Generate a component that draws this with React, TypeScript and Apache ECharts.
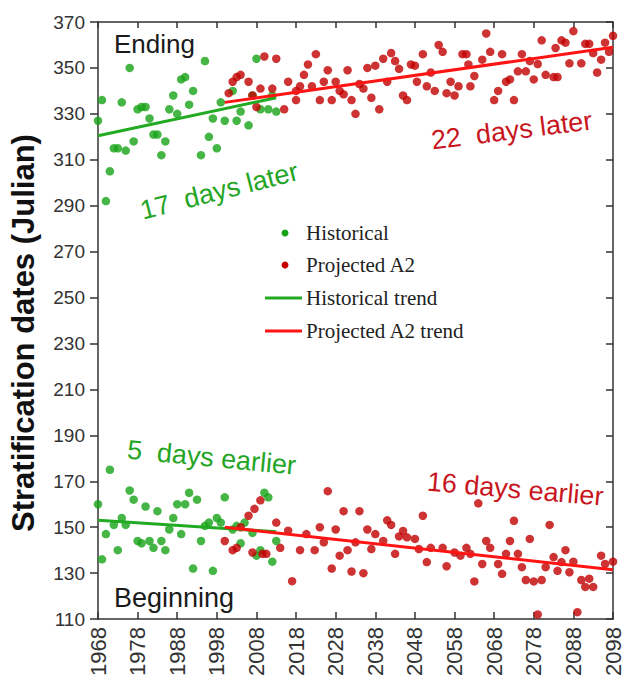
import React, { useEffect, useRef } from "react";
import * as echarts from "echarts";

// Historical (green) ending dates [year, julian day]
const histEnd: number[][] = [
  [1968, 327], [1969, 336], [1970, 292], [1971, 305], [1972, 315], [1973, 315], [1974, 335],
  [1975, 314], [1976, 350], [1977, 318], [1978, 332], [1979, 333], [1980, 333], [1981, 328],
  [1982, 321], [1983, 321], [1984, 312], [1985, 318], [1986, 332], [1987, 338], [1988, 330],
  [1989, 345], [1990, 346], [1991, 334], [1992, 340], [1994, 312], [1995, 353], [1996, 320],
  [1997, 328], [1998, 315], [1999, 335], [2000, 327], [2002, 340], [2003, 327], [2004, 331],
  [2006, 325], [2007, 338], [2008, 354], [2009, 332], [2011, 332], [2012, 338], [2013, 331],
];

// Projected A2 (red) ending dates
const projEnd: number[][] = [
  [2001, 339], [2002, 344], [2003, 346], [2004, 347], [2006, 344], [2007, 338], [2008, 333],
  [2009, 341], [2010, 355], [2012, 341], [2013, 354], [2015, 332], [2016, 344], [2018, 340],
  [2018, 336], [2019, 342], [2020, 347], [2021, 351.5], [2022, 342], [2023, 356], [2024, 336],
  [2025, 344], [2026, 349], [2027, 336], [2028, 344], [2029, 340], [2030, 338.5], [2031, 349],
  [2032, 336], [2033, 330], [2034, 343], [2035, 341], [2036, 350], [2037, 337], [2038, 351],
  [2039, 332], [2040, 354], [2041, 344], [2042, 356.5], [2043, 353], [2044, 349.6], [2045, 338],
  [2046, 336], [2047, 351.5], [2048, 351], [2048.5, 344], [2050, 356], [2051, 342], [2052, 348],
  [2053, 340], [2054, 360], [2055, 357], [2056, 339], [2057, 344], [2058, 338], [2059, 342],
  [2060, 356], [2061, 356], [2061.5, 351.5], [2062, 342], [2063, 346.5], [2065, 353.6], [2066, 365],
  [2067, 357], [2068, 336], [2069, 340], [2070, 356], [2071, 344], [2072, 345], [2073, 336],
  [2074, 348.5], [2075, 356], [2076, 348.5], [2077, 353], [2078, 345], [2079, 351.7], [2080, 362],
  [2081, 347], [2083, 346], [2083.5, 358.7], [2084, 346], [2085, 362], [2086, 361], [2087, 352],
  [2088, 366], [2090, 352], [2091, 360.5], [2092, 360.5], [2093, 356.5], [2094, 348], [2095, 353.6],
  [2096, 361], [2097, 357], [2098, 364],
];

// Historical (green) beginning dates
const histBeg: number[][] = [
  [1968, 160], [1969, 136], [1970, 147], [1971, 175], [1972, 151], [1973, 140], [1974, 154],
  [1975, 151], [1976, 166], [1977, 162], [1978, 144], [1979, 143], [1980, 159], [1981, 144],
  [1982, 141], [1983, 157], [1984, 144], [1985, 140], [1986, 149], [1987, 154], [1988, 160],
  [1989, 147], [1990, 160], [1991, 165], [1992, 132], [1993, 162], [1994, 144], [1995, 150.6],
  [1996, 152], [1997, 131], [1998, 154], [1999, 152], [2000, 163], [2002, 149], [2003, 150.6],
  [2004, 143], [2005, 152], [2007, 147.5], [2008, 137.6], [2009, 140], [2010, 165], [2011, 163],
  [2012, 135], [2013, 144],
];

// Projected A2 (red) beginning dates
const projBeg: number[][] = [
  [2000, 144], [2002, 140], [2003, 141], [2004, 150], [2006, 155], [2007, 139], [2007.5, 158],
  [2009, 161.7], [2009.5, 138.4], [2010.5, 138.4], [2013, 152], [2014, 141], [2016, 148.5],
  [2017, 126.5], [2019, 140], [2020.6, 147], [2022.7, 140], [2024, 150], [2025, 143.4],
  [2026, 165.7], [2027, 132], [2028, 149], [2029, 137.6], [2030, 157], [2031, 140], [2032, 130.7],
  [2033, 143.4], [2034, 157], [2035, 130], [2036, 149], [2037, 140.5], [2038, 147], [2040, 144],
  [2041, 153], [2042, 151], [2043, 138.4], [2044, 146], [2045, 148.4], [2046, 145.6], [2048, 144.9],
  [2049, 140.5], [2050, 155], [2051, 134.8], [2052, 141], [2055, 141], [2056, 133], [2058, 139],
  [2059.5, 137.6], [2061, 141], [2062, 138.4], [2063, 126.4], [2064, 160.4], [2065, 134], [2066, 144],
  [2067, 141], [2069, 134], [2070, 129.7], [2071, 138.4], [2072, 144], [2073, 152.8], [2074, 138.4],
  [2075, 132.6], [2076, 127], [2077, 144.9], [2078, 126.4], [2079, 112], [2080, 127], [2081, 132.6],
  [2082, 151], [2083, 137], [2084, 131], [2085, 134.8], [2086, 140], [2087, 130.4], [2088, 135],
  [2089, 113], [2090, 127], [2091, 124], [2092, 127.6], [2093, 124], [2095, 137.6], [2096, 134],
  [2098, 135],
];

// Trend line end points
const histTrendEnd: number[][] = [[1968, 320.5], [2013, 337]];
const projTrendEnd: number[][] = [[2000, 335], [2098, 359]];
const histTrendBeg: number[][] = [[1968, 153], [2013, 148]];
const projTrendBeg: number[][] = [[2000, 150], [2098, 131.5]];

const X_MIN = 1968;
const X_MAX = 2098;
const X_STEP = 10;
const Y_MIN = 110;
const Y_MAX = 370;
const Y_STEP = 20;

const GREEN = "#17a317";
const RED = "#c20000";
const GREEN_LINE = "#22aa22";
const RED_LINE = "#ff1414";
const GREEN_TEXT = "#25a525";
const RED_TEXT = "#c8161e";
const SANS = "'Liberation Sans', Arial, sans-serif";
const SERIF = "'Liberation Serif', 'Times New Roman', serif";

export default function App() {
  const ref = useRef<HTMLDivElement>(null);
  useEffect(() => {
    const chart = echarts.init(ref.current!, null, { renderer: "svg" });
    const axisLine = { show: true, onZero: false, lineStyle: { color: "#333", width: 1.5 } };
    const tickStyle = { color: "#333", width: 1.5 };
    const legendY = [233, 265, 298, 331];
    chart.setOption({
      animation: false,
      backgroundColor: "#fff",
      grid: { left: 98, right: 10, top: 22, bottom: 55, containLabel: false },
      xAxis: [
        {
          type: "value", min: X_MIN, max: X_MAX, interval: X_STEP, position: "bottom",
          axisLine, axisTick: { show: true, inside: true, length: 7, lineStyle: tickStyle },
          axisLabel: { rotate: 90, fontSize: 22, color: "#333", fontFamily: SANS, margin: 8,
            formatter: (v: number) => String(v) },
          splitLine: { show: false },
        },
        {
          type: "value", min: X_MIN, max: X_MAX, interval: X_STEP, position: "top",
          axisLine, axisTick: { show: true, inside: true, length: 6, lineStyle: tickStyle },
          axisLabel: { show: false }, splitLine: { show: false },
        },
      ],
      yAxis: [
        {
          type: "value", min: Y_MIN, max: Y_MAX, interval: Y_STEP, position: "left",
          axisLine, axisTick: { show: true, inside: false, length: 8, lineStyle: tickStyle },
          axisLabel: { fontSize: 19, color: "#333", fontFamily: SANS, margin: 13 },
          splitLine: { show: false },
        },
        {
          type: "value", min: Y_MIN, max: Y_MAX, interval: Y_STEP, position: "right",
          axisLine, axisTick: { show: true, inside: true, length: 7, lineStyle: tickStyle },
          axisLabel: { show: false }, splitLine: { show: false },
        },
      ],
      series: [
        { name: "Historical", type: "scatter", data: histEnd.concat(histBeg), symbol: "circle",
          symbolSize: 8.5, itemStyle: { color: GREEN } },
        { name: "Projected A2", type: "scatter", data: projEnd.concat(projBeg), symbol: "circle",
          symbolSize: 8.5, itemStyle: { color: RED } },
        { name: "Historical trend", type: "line", data: histTrendEnd, symbol: "none",
          lineStyle: { color: GREEN_LINE, width: 3 } },
        { name: "Historical trend", type: "line", data: histTrendBeg, symbol: "none",
          lineStyle: { color: GREEN_LINE, width: 3 } },
        { name: "Projected A2 trend", type: "line", data: projTrendEnd, symbol: "none",
          lineStyle: { color: RED_LINE, width: 3 } },
        { name: "Projected A2 trend", type: "line", data: projTrendBeg, symbol: "none",
          lineStyle: { color: RED_LINE, width: 3 } },
      ],
      graphic: [
        { type: "text", x: 23, y: 333, rotation: Math.PI / 2,
          style: { text: "Stratification dates (Julian)", fill: "#111", fontSize: 31, fontWeight: "bold",
            fontFamily: SANS, align: "center", verticalAlign: "middle" } },
        { type: "text", x: 114, y: 44,
          style: { text: "Ending", fill: "#1a1a1a", fontSize: 26, fontFamily: SANS, align: "left", verticalAlign: "middle" } },
        { type: "text", x: 114, y: 598,
          style: { text: "Beginning", fill: "#1a1a1a", fontSize: 27, fontFamily: SANS, align: "left", verticalAlign: "middle" } },
        { type: "text", x: 144, y: 224, rotation: 0.25,
          style: { text: "17  days later", fill: GREEN_TEXT, fontSize: 27, fontFamily: SANS, align: "left", verticalAlign: "bottom" } },
        { type: "text", x: 433, y: 154, rotation: 0.125,
          style: { text: "22  days later", fill: RED_TEXT, fontSize: 27, fontFamily: SANS, align: "left", verticalAlign: "bottom" } },
        { type: "text", x: 126, y: 463, rotation: -0.095,
          style: { text: "5  days earlier", fill: GREEN_TEXT, fontSize: 27, fontFamily: SANS, align: "left", verticalAlign: "bottom" } },
        { type: "text", x: 426, y: 495, rotation: -0.085,
          style: { text: "16 days earlier", fill: RED_TEXT, fontSize: 27, fontFamily: SANS, align: "left", verticalAlign: "bottom" } },
        // legend
        { type: "circle", shape: { cx: 285, cy: legendY[0], r: 3.5 }, style: { fill: GREEN } },
        { type: "circle", shape: { cx: 285, cy: legendY[1], r: 3.5 }, style: { fill: RED } },
        { type: "line", shape: { x1: 265, y1: legendY[2], x2: 302, y2: legendY[2] }, style: { stroke: GREEN_LINE, lineWidth: 3 } },
        { type: "line", shape: { x1: 265, y1: legendY[3], x2: 302, y2: legendY[3] }, style: { stroke: RED_LINE, lineWidth: 3 } },
        { type: "text", x: 306, y: legendY[0], style: { text: "Historical", fill: "#222", fontSize: 21, fontFamily: SERIF, align: "left", verticalAlign: "middle" } },
        { type: "text", x: 306, y: legendY[1], style: { text: "Projected A2", fill: "#222", fontSize: 21, fontFamily: SERIF, align: "left", verticalAlign: "middle" } },
        { type: "text", x: 306, y: legendY[2], style: { text: "Historical trend", fill: "#222", fontSize: 21, fontFamily: SERIF, align: "left", verticalAlign: "middle" } },
        { type: "text", x: 306, y: legendY[3], style: { text: "Projected A2 trend", fill: "#222", fontSize: 21, fontFamily: SERIF, align: "left", verticalAlign: "middle" } },
      ],
    });
    return () => chart.dispose();
  }, []);
  return (
    <div
      ref={ref}
      style={{ position: "fixed", left: 0, top: 0, width: 624, height: 679, background: "#fff" }}
    />
  );
}
